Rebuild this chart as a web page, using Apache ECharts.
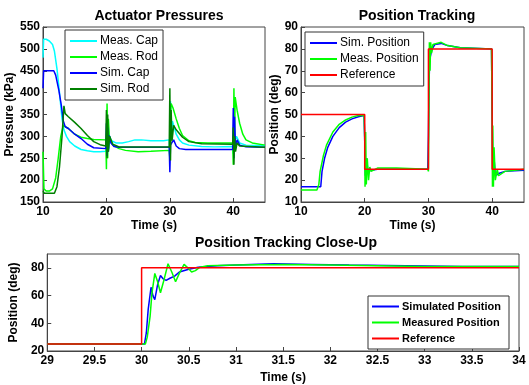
<!DOCTYPE html>
<html><head><meta charset="utf-8">
<script src="https://cdn.jsdelivr.net/npm/echarts@6/dist/echarts.min.js"></script>
<style>html,body{margin:0;padding:0;background:#fff}#c{width:529px;height:385px}</style>
</head><body><div id="c"></div>
<script>
// ---- Actuator Pressures (kPa) : [time s, pressure] ----
var measCap = [[10,480],[10.1,522],[10.5,522],[11,518],[11.5,510],[11.8,495],[12.2,455],[12.6,400],[13,340],[13.3,315],[13.7,300],[14.2,288],[15,278],[16,270],[17,267],[18,265],[19,265],[19.9,266],[20,300],[20.1,258],[20.2,330],[20.35,270],[20.5,300],[20.8,290],[21.5,285],[22.5,285],[23.5,288],[24.5,292],[25.5,292],[27,290],[29,290],[29.9,292],[30,250],[30.1,380],[30.25,300],[30.4,335],[30.7,320],[31,305],[31.5,292],[32,285],[33,280],[35,277],[37,276],[39.9,277],[40,260],[40.1,360],[40.25,290],[40.5,300],[41,285],[42,280],[45,279]];
var measRod = [[10,265],[10.15,180],[10.5,175],[11,175],[11.5,180],[12,205],[12.4,250],[12.8,300],[13.2,325],[13.5,328],[14,318],[15,305],[16,298],[17,295],[18,293],[19.9,292],[20,225],[20.1,375],[20.2,250],[20.3,340],[20.45,300],[20.7,290],[21,280],[22,272],[23,268],[25,265],[27,266],[29.9,268],[30,250],[30.1,340],[30.2,375],[30.5,365],[31,340],[31.5,318],[32,302],[33,290],[34,286],[36,285],[39.9,285],[40,235],[40.1,410],[40.2,300],[40.3,390],[40.6,360],[41,330],[41.5,305],[42,292],[43,285],[45,280]];
var simCap = [[10,410],[10.1,450],[11.7,450],[12,440],[12.5,405],[12.9,370],[13.2,335],[13.5,322],[14,318],[15,305],[16,295],[17,282],[18,274],[19.9,272],[20,330],[20.1,255],[20.2,320],[20.3,265],[20.45,302],[20.7,285],[21.2,277],[22,275],[29.9,275],[30,218],[30.1,280],[30.3,285],[30.6,292],[31,278],[31.5,272],[32.5,270],[39.9,270],[40,365],[40.1,250],[40.2,345],[40.35,275],[40.6,292],[41,280],[42,276],[45,275]];
var simRod = [[10,175],[10.2,170],[11.8,170],[12.2,185],[12.6,230],[13,300],[13.3,370],[13.5,352],[14,345],[15,332],[16,318],[17,302],[18,288],[19,281],[19.9,278],[20,360],[20.1,250],[20.2,350],[20.3,265],[20.5,300],[21,282],[22,276],[29.9,276],[30,410],[30.1,245],[30.2,360],[30.35,290],[30.6,325],[31,315],[32,298],[33,288],[35,283],[39.9,282],[40,320],[40.1,235],[40.2,300],[40.35,265],[40.6,285],[41,278],[45,275]];

// ---- Position Tracking (deg) ----
var refPos = [[10,50],[20,50],[20,25],[30,25],[30,80],[40,80],[40,25],[45,25]];
var simPos = [[10,17],[13.1,17],[13.3,24],[13.7,30],[14.2,35],[15,40],[16,44],[17,46.5],[18,48],[19,49],[19.9,49.5],[20,38],[20.1,22],[20.3,30],[20.5,24],[21,24.5],[22,25],[29.9,25],[30,40],[30.1,65],[30.2,75],[30.4,78],[30.6,80],[31,82],[32,82.5],[33,81.5],[35,80.5],[39.9,80],[40,50],[40.1,22],[40.3,30],[40.5,22],[41,23],[42,24],[45,24.5]];
var measPos = [[10,15.5],[12.5,15.5],[12.8,18],[13,24],[13.5,31],[14,36],[15,42],[16,45.5],[17,47.5],[18,48.8],[19,49.5],[19.9,49.5],[20,40],[20.05,17],[20.15,42],[20.25,18],[20.4,30],[20.6,20],[20.8,26],[21,24],[22,25.5],[25,25.5],[29.9,25],[30,24],[30.05,42],[30.15,83],[30.25,70],[30.35,83],[30.5,78],[30.7,82],[31,82],[32,83],[33,81.5],[35,80.5],[39.9,80],[40,50],[40.05,17],[40.1,45],[40.2,17],[40.3,35],[40.5,20],[40.8,25],[41,22],[42,24],[45,25]];

// ---- Close-up (deg) ----
var refClose = [[29,25],[30,25],[30,80],[34,80]];
var simClose = [[29,25],[30.03,25],[30.05,33],[30.07,50],[30.1,66],[30.12,60],[30.14,57],[30.17,68],[30.2,74.5],[30.23,72],[30.26,71],[30.3,72.5],[30.35,74],[30.4,77],[30.5,79],[30.6,80.5],[30.8,81.5],[31,82],[31.4,83],[31.8,82.5],[32.2,82],[32.8,81.5],[33.4,81],[34,81]];
var measClose = [[29,25],[30.04,25],[30.06,30],[30.09,45],[30.11,62],[30.14,76],[30.17,70],[30.2,62],[30.24,72],[30.28,83],[30.32,77],[30.36,70],[30.4,76],[30.45,82.5],[30.49,80],[30.53,77],[30.57,78],[30.62,80.5],[30.7,81.5],[31,82],[31.5,82.5],[32,82],[32.5,81.5],[33,81],[34,81]];

var titles = ['Actuator Pressures','Position Tracking','Position Tracking Close-Up'];

var FONT = 'Liberation Sans, Arial, sans-serif';
var C = {cyan:'#00FFFF', lgreen:'#00FF00', blue:'#0000FF', dgreen:'#008000', red:'#FF0000'};

function xAx(gi, min, max, interval, gap, showMax){
  return {type:'value', gridIndex:gi, min:min, max:max, interval:interval,
    name:'Time (s)', nameLocation:'middle', nameGap:gap,
    nameTextStyle:{fontFamily:FONT, fontWeight:'bold', fontSize:12, color:'#000'},
    axisLine:{show:true, onZero:false, lineStyle:{color:'#444'}},
    axisTick:{show:true, inside:true, length:4, lineStyle:{color:'#444'}},
    axisLabel:{fontFamily:FONT, fontWeight:'bold', fontSize:12, color:'#000', margin:4, showMaxLabel: showMax},
    splitLine:{show:false}};
}
function yAx(gi, min, max, interval, name, gap, showMax){
  return {type:'value', gridIndex:gi, min:min, max:max, interval:interval,
    name:name, nameLocation:'middle', nameGap:gap, nameRotate:90,
    nameTextStyle:{fontFamily:FONT, fontWeight:'bold', fontSize:12, color:'#000'},
    axisLine:{show:true, onZero:false, lineStyle:{color:'#444'}},
    axisTick:{show:true, inside:true, length:4, lineStyle:{color:'#444'}},
    axisLabel:{fontFamily:FONT, fontWeight:'bold', fontSize:12, color:'#000', margin:3, showMaxLabel: showMax},
    splitLine:{show:false}};
}
function ser(name, data, color, xi){
  return {type:'line', name:name, data:data, xAxisIndex:xi, yAxisIndex:xi,
    showSymbol:false, symbol:'none', animation:false, silent:true,
    lineStyle:{color:color, width:1.5}, itemStyle:{color:color}};
}
function legend(names, left, top, bold, fs, gap, pad){
  return {orient:'vertical', left:left, top:top, data:names, icon:'rect',
    itemWidth:27, itemHeight:2, itemGap:gap, padding:pad,
    backgroundColor:'#fff', borderColor:'#333', borderWidth:1, borderRadius:0,
    selectedMode:false,
    textStyle:{fontFamily:FONT, fontSize:fs, fontWeight:bold?'bold':'normal', color:'#000', padding:[0,0,0,-2]}};
}

var chart = echarts.init(document.getElementById('c'), null, {renderer:'canvas'});
chart.setOption({
  animation:false,
  backgroundColor:'#fff',
  title:[
    {text:titles[0], left:154, top:4, textAlign:'center', textStyle:{fontFamily:FONT, fontWeight:'bold', fontSize:14, color:'#000'}},
    {text:titles[1], left:412, top:4, textAlign:'center', textStyle:{fontFamily:FONT, fontWeight:'bold', fontSize:14, color:'#000'}},
    {text:titles[2], left:281, top:231, textAlign:'center', textStyle:{fontFamily:FONT, fontWeight:'bold', fontSize:14, color:'#000'}}
  ],
  grid:[
    {left:43, top:27, width:222, height:175, show:true, borderColor:'#444', borderWidth:1, containLabel:false},
    {left:301, top:27, width:223, height:175, show:true, borderColor:'#444', borderWidth:1, containLabel:false},
    {left:43, top:254, width:476, height:97, show:true, borderColor:'#444', borderWidth:1, containLabel:false}
  ],
  xAxis:[ xAx(0,10,45,10,18,false), xAx(1,10,45,10,18,false), xAx(2,29,34,0.5,21,true) ],
  yAxis:[ yAx(0,150,550,50,'Pressure (kPa)',27,true), yAx(1,10,90,10,'Position (deg)',20,true), yAx(2,20,90,20,'Position (deg)',18,false) ],
  legend:[
    legend(['Meas. Cap','Meas. Rod','Sim. Cap','Sim. Rod'], 65, 30, false, 12, 4, [5,5,5,5]),
    legend(['Sim. Position','Meas. Position','Reference'], 305, 32, false, 12, 4, [5,5,5,5]),
    legend(['Simulated Position','Measured Position','Reference'], 368, 296, true, 11, 5, [5,8,5,4])
  ],
  series:[
    ser('Meas. Cap', measCap, C.cyan, 0),
    ser('Meas. Rod', measRod, C.lgreen, 0),
    ser('Sim. Cap', simCap, C.blue, 0),
    ser('Sim. Rod', simRod, C.dgreen, 0),
    ser('Sim. Position', simPos, C.blue, 1),
    ser('Meas. Position', measPos, C.lgreen, 1),
    ser('Reference', refPos, C.red, 1),
    ser('Simulated Position', simClose, C.blue, 2),
    ser('Measured Position', measClose, C.lgreen, 2),
    ser('Reference', refClose, C.red, 2)
  ]
});
</script></body></html>
